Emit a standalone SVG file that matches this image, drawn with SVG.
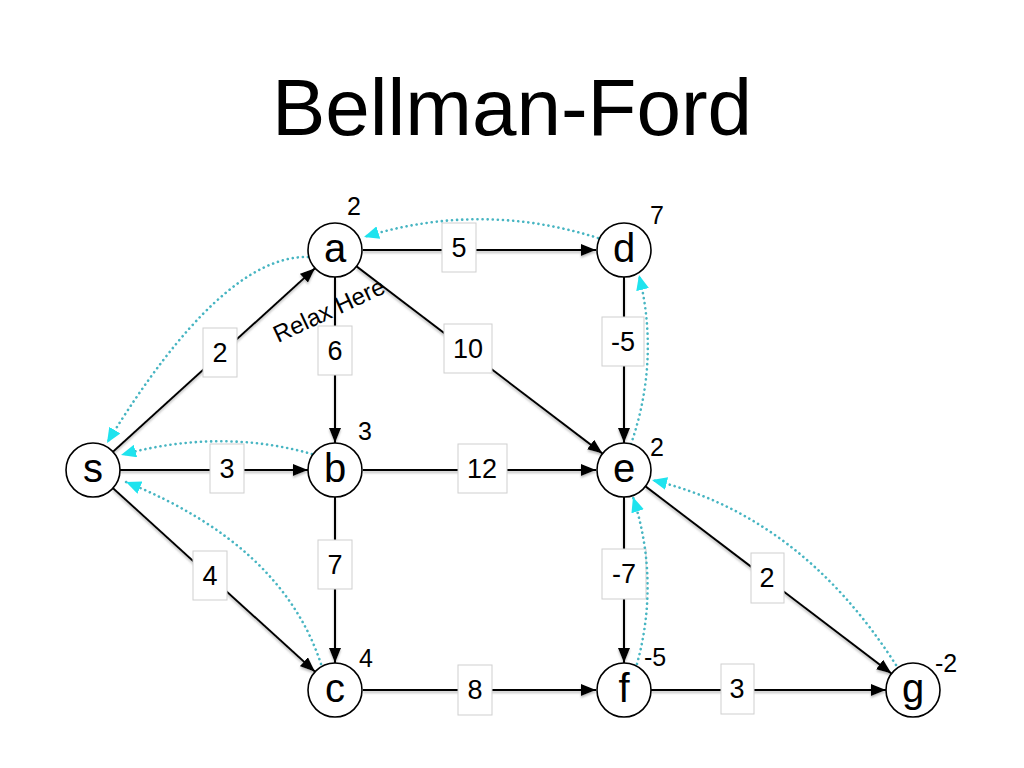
<svg xmlns="http://www.w3.org/2000/svg" width="1024" height="768" viewBox="0 0 1024 768">
<style>
  text { font-family: "Liberation Sans", Arial, sans-serif; fill: #000; }
  .title { font-size: 80px; text-anchor: middle; }
  .node circle { fill: #fff; stroke: #000; stroke-width: 1.6; }
  .node .lbl { font-size: 40px; text-anchor: middle; }
  .dist { font-size: 25px; text-anchor: middle; }
  .edge { stroke: #000; stroke-width: 2; fill: none; marker-end: url(#arr); }
  .wbox { fill: #fff; stroke: #cfcfcf; stroke-width: 1; }
  .w { font-size: 27px; text-anchor: middle; }
  .pred { stroke: #47b5c2; stroke-width: 2.6; fill: none; stroke-dasharray: 0.1 5; stroke-linecap: round; marker-end: url(#carr); }
  .note { font-size: 24px; }
</style>
<defs>
  <marker id="arr" markerUnits="userSpaceOnUse" markerWidth="15" markerHeight="12" refX="15" refY="6" orient="auto">
    <path d="M0,0 L15,6 L0,12 z" fill="#000"/>
  </marker>
  <marker id="carr" markerUnits="userSpaceOnUse" markerWidth="15" markerHeight="13" refX="15" refY="6.5" orient="auto">
    <path d="M0,0 L15,6.5 L0,13 z" fill="#1fe3ee"/>
  </marker>
  <filter id="sh" x="-10%" y="-10%" width="120%" height="130%">
    <feDropShadow dx="0" dy="2" stdDeviation="0.8" flood-color="#888" flood-opacity="0.55"/>
  </filter>
</defs>

<rect width="1024" height="768" fill="#fff"/>
<text class="title" x="512" y="135">Bellman-Ford</text>

<g id="connectors">
  <g id="edges" filter="url(#sh)">
    <line class="edge" x1="363" y1="250" x2="596" y2="250"/>
    <line class="edge" x1="113" y1="451.8" x2="315" y2="268.2"/>
    <line class="edge" x1="356.5" y1="266.4" x2="602.5" y2="453.6"/>
    <line class="edge" x1="335" y1="277" x2="335" y2="443"/>
    <line class="edge" x1="120" y1="470" x2="308" y2="470"/>
    <line class="edge" x1="113" y1="488.2" x2="315" y2="671.8"/>
    <line class="edge" x1="363" y1="470" x2="596" y2="470"/>
    <line class="edge" x1="335" y1="497" x2="335" y2="663"/>
    <line class="edge" x1="624" y1="277" x2="624" y2="443"/>
    <line class="edge" x1="363" y1="690" x2="596" y2="690"/>
    <line class="edge" x1="624" y1="497" x2="624" y2="663"/>
    <line class="edge" x1="645.5" y1="486.4" x2="891.5" y2="673.6"/>
    <line class="edge" x1="651" y1="690" x2="886" y2="690"/>
  </g>
  <g id="weights">
    <rect class="wbox" x="442" y="223" width="34" height="49"/><text class="w" x="459" y="257">5</text>
    <rect class="wbox" x="203" y="328" width="34" height="49"/><text class="w" x="220" y="362">2</text>
    <rect class="wbox" x="318" y="326" width="34" height="49"/><text class="w" x="335" y="360">6</text>
    <rect class="wbox" x="444" y="324" width="48" height="49"/><text class="w" x="468" y="358">10</text>
    <rect class="wbox" x="602" y="317" width="42" height="49"/><text class="w" x="623" y="351">-5</text>
    <rect class="wbox" x="210" y="444" width="34" height="49"/><text class="w" x="227" y="478">3</text>
    <rect class="wbox" x="458" y="444" width="49" height="49"/><text class="w" x="482" y="478">12</text>
    <rect class="wbox" x="193" y="551" width="34" height="49"/><text class="w" x="210" y="585">4</text>
    <rect class="wbox" x="318" y="540" width="34" height="49"/><text class="w" x="335" y="574">7</text>
    <rect class="wbox" x="602" y="549" width="44" height="50"/><text class="w" x="624" y="583">-7</text>
    <rect class="wbox" x="751" y="553" width="33" height="50"/><text class="w" x="767" y="587">2</text>
    <rect class="wbox" x="458" y="665" width="34" height="50"/><text class="w" x="475" y="699">8</text>
    <rect class="wbox" x="721" y="664" width="33" height="50"/><text class="w" x="737" y="698">3</text>
  </g>
  <g id="predecessors">
    <path class="pred" d="M598,238 Q481,201 364,237"/>
    <path class="pred" d="M308,257 Q222,255 107,443"/>
    <path class="pred" d="M312,454 Q220,428 121,455"/>
    <path class="pred" d="M321,664 Q282,545 126,482"/>
    <path class="pred" d="M631,444 Q660,360 639,275"/>
    <path class="pred" d="M637,664 Q660,580 633,497"/>
    <path class="pred" d="M896,665 Q800,515 652,480"/>
  </g>
</g>

<g id="node-a" class="node"><circle cx="335" cy="250" r="27"/><text class="lbl" x="335" y="262">a</text><text class="dist" x="354" y="215">2</text></g>
<g id="node-d" class="node"><circle cx="624" cy="250" r="27"/><text class="lbl" x="624" y="262">d</text><text class="dist" x="657" y="224">7</text></g>
<g id="node-s" class="node"><circle cx="93" cy="470" r="27"/><text class="lbl" x="93" y="482">s</text></g>
<g id="node-b" class="node"><circle cx="335" cy="470" r="27"/><text class="lbl" x="335" y="482">b</text><text class="dist" x="365" y="440">3</text></g>
<g id="node-e" class="node"><circle cx="624" cy="470" r="27"/><text class="lbl" x="624" y="482">e</text><text class="dist" x="657" y="456">2</text></g>
<g id="node-c" class="node"><circle cx="335" cy="690" r="27"/><text class="lbl" x="335" y="702">c</text><text class="dist" x="366" y="667">4</text></g>
<g id="node-f" class="node"><circle cx="624" cy="690" r="27"/><text class="lbl" x="624" y="702">f</text><text class="dist" x="655" y="666">-5</text></g>
<g id="node-g" class="node"><circle cx="913" cy="690" r="27"/><text class="lbl" x="913" y="702">g</text><text class="dist" x="946" y="672">-2</text></g>

<text class="note" x="278" y="343" transform="rotate(-25 278 343)">Relax Here</text>
</svg>
